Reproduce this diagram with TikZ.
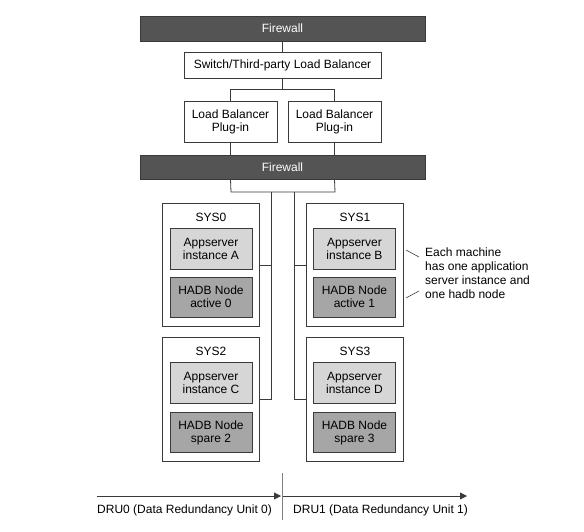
\documentclass[tikz,border=0pt]{standalone}
\usepackage{fontspec}
\setmainfont{Liberation Sans}
\usetikzlibrary{arrows.meta}
\definecolor{fwgray}{HTML}{545454}
\definecolor{appgray}{HTML}{D6D6D6}
\definecolor{hadbgray}{HTML}{A6A6A6}
\definecolor{linegray}{HTML}{3A3A3A}
\tikzset{
  base/.style={draw=linegray, line width=0.8pt, inner sep=0pt, align=center,
    font=\fontsize{12}{13}\selectfont},
  fw/.style={base, fill=fwgray, text=white, minimum width=285pt},
  plain/.style={base, fill=white},
  sysbox/.style={base, fill=white, minimum width=97pt},
  appbox/.style={base, fill=appgray, minimum width=82pt, minimum height=41pt},
  hadbbox/.style={base, fill=hadbgray, minimum width=82pt, minimum height=40pt},
  conn/.style={draw=linegray, line width=0.8pt},
  lbl/.style={inner sep=0pt, font=\fontsize{12}{14}\selectfont},
}
\begin{document}
\begin{tikzpicture}[x=1pt, y=-1pt]
\useasboundingbox (0,0) rectangle (584,532);
% firewalls and balancers
\node[fw, minimum height=25pt] (fw1) at (282.5,28.5) {Firewall};
\node[plain, minimum width=197pt, minimum height=26pt] (sw) at (282.5,65) {Switch/Third-party Load Balancer};
\node[plain, minimum width=93pt, minimum height=41pt] (lb1) at (230.5,121.5) {Load Balancer\\Plug-in};
\node[plain, minimum width=93pt, minimum height=41pt] (lb2) at (334.5,121.5) {Load Balancer\\Plug-in};
\node[fw, minimum height=24pt] (fw2) at (282.5,167) {Firewall};
% systems
\node[sysbox, minimum height=123pt] (sys0) at (210.5,264.5) {};
\node[sysbox, minimum height=123pt] (sys1) at (355,264.5) {};
\node[sysbox, minimum height=124pt] (sys2) at (210.5,399) {};
\node[sysbox, minimum height=124pt] (sys3) at (355,399) {};
\node[lbl] (t0) at (211,217) {SYS0};
\node[lbl] (t1) at (355,217) {SYS1};
\node[lbl] (t2) at (211,351) {SYS2};
\node[lbl] (t3) at (355,351) {SYS3};
\node[appbox] (appA) at (211,248.5) {Appserver\\instance A};
\node[hadbbox] (hadb0) at (211,297) {HADB Node\\active 0};
\node[appbox] (appB) at (354.5,248.5) {Appserver\\instance B};
\node[hadbbox] (hadb1) at (354.5,297) {HADB Node\\active 1};
\node[appbox] (appC) at (211,382.5) {Appserver\\instance C};
\node[hadbbox] (hadb2) at (211,432.5) {HADB Node\\spare 2};
\node[appbox] (appD) at (354.5,382.5) {Appserver\\instance D};
\node[hadbbox] (hadb3) at (354.5,432.5) {HADB Node\\spare 3};
% connectors
\draw[conn] (fw1.south) -- (sw.north);
\draw[conn] (sw.south) -- ++(0,11) coordinate (swj) -| (lb1.north);
\draw[conn] (swj) -| (lb2.north);
\draw[conn] (lb1.south) -- (lb1.south |- fw2.north);
\draw[conn] (lb2.south) -- (lb2.south |- fw2.north);
\coordinate (bl) at (231,192);
\coordinate (br) at (335,192);
\draw[conn] (lb1.south |- fw2.south) -- (bl) -- (br) -- (lb2.south |- fw2.south);
\coordinate (vl) at (271,192);
\coordinate (vr) at (294,192);
\draw[conn] (vl) |- (sys2.east);
\draw[conn] (vr) |- (sys3.west);
\draw[conn] (sys0.east |- 0,265) -- (vl |- 0,265);
\draw[conn] (sys1.west |- 0,265) -- (vr |- 0,265);
% callout
\node[lbl, anchor=west, align=left] (note) at (425,273) {Each machine\\has one application\\server instance and\\one hadb node};
\coordinate (ca1) at (406,250);
\coordinate (ca2) at (406,298);
\draw[conn, line width=0.6pt] (ca1) -- (419,257);
\draw[conn, line width=0.6pt] (ca2) -- (419,291);
% DRU arrows
\coordinate (a0s) at (97,496);
\coordinate (a0e) at (281,496);
\coordinate (a1s) at (283,496);
\coordinate (a1e) at (467,496);
\draw[conn, -{Triangle[length=7pt,width=7pt]}] (a0s) -- (a0e);
\draw[conn, -{Triangle[length=7pt,width=7pt]}] (a1s) -- (a1e);
\coordinate (d1) at (282,473);
\coordinate (d2) at (282,520);
\draw[draw=gray, line width=0.8pt] (d1) -- (d2);
\node[lbl, anchor=west] (dru0) at (97,510) {DRU0 (Data Redundancy Unit 0)};
\node[lbl, anchor=west] (dru1) at (293,510) {DRU1 (Data Redundancy Unit 1)};
\end{tikzpicture}
\end{document}
